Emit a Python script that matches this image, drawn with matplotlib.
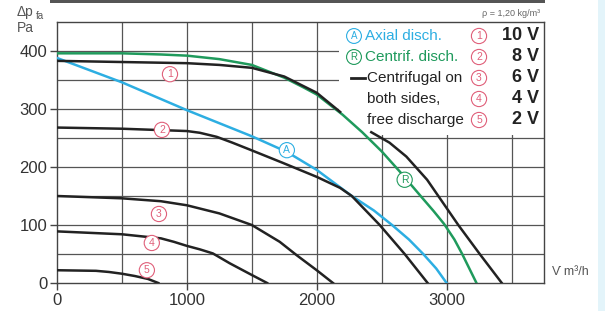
import matplotlib.pyplot as plt
from matplotlib.patches import Rectangle

# fan curves (flow m3/h, pressure Pa)
v10_x = [0, 500, 1000, 1250, 1500, 1750, 2000, 2180]
v10_y = [383, 381, 379, 376, 371, 356, 328, 295]

both_x = [2420, 2560, 2690, 2850, 3090, 3255, 3425]
both_y = [260, 242, 218, 178, 100, 50, 0]

v8_x = [0, 500, 1000, 1100, 1230, 1350, 1485, 1740, 2000, 2180, 2270, 2485, 2677, 2854]
v8_y = [268, 266, 262, 259, 252, 242, 230, 207, 183, 164, 150, 100, 50, 0]

v6_x = [0, 500, 800, 1000, 1250, 1500, 1715, 1845, 2000, 2125]
v6_y = [150, 146, 141, 134, 120, 100, 71, 48, 22, 0]

v4_x = [0, 500, 800, 900, 1000, 1100, 1200, 1330, 1490, 1618]
v4_y = [89, 84, 77, 71, 64, 58, 51, 34, 15, 0]

v2_x = [0, 300, 400, 500, 600, 700, 780]
v2_y = [22, 21, 19, 16, 12, 7, 0]

axial_x = [0, 500, 1000, 1500, 1770, 2000, 2270, 2440, 2580, 2710, 2820, 2920, 3000]
axial_y = [388, 346, 298, 253, 226, 195, 150, 125, 100, 75, 50, 25, 0]

centrif_x = [0, 500, 800, 1000, 1250, 1500, 1750, 1900, 2000, 2200, 2350, 2500, 2640,
             2800, 2900, 2980, 3060, 3120, 3230]
centrif_y = [396, 396, 394, 392, 386, 376, 354, 337, 325, 290, 260, 227, 192,
             150, 124, 102, 75, 50, 0]

num_labels = ['1', '2', '3', '4', '5']
num_pos = [(870, 360), (808, 264), (785, 119), (730, 69), (692, 22)]
volt_labels = ['10 V', '8 V', '6 V', '4 V', '2 V']

x_ticks = [0, 1000, 2000, 3000]
y_ticks = [0, 100, 200, 300, 400]

BLACK = '#222222'
BLUE = '#2daee2'
GREEN = '#1f9a5c'
PINK = '#e0607a'
GRID = '#555555'
reg = ['Liberation Sans', 'DejaVu Sans']

W, H = 605, 311
fig = plt.figure(figsize=(W / 100, H / 100), dpi=100)
ax = fig.add_axes([57 / W, 1 - 283 / H, (544 - 57) / W, (283 - 22) / H])

ax.set_xlim(0, 3750)
ax.set_ylim(0, 450)

# grid
for gx in range(500, 3750, 500):
    ax.axvline(gx, color=GRID, lw=0.9, zorder=1)
for gy in range(50, 450, 50):
    ax.axhline(gy, color=GRID, lw=0.9, zorder=1)

# white area behind the legend text
ax.add_patch(Rectangle((2170, 255), 3750 - 2170, 195, facecolor='white',
                       edgecolor='none', zorder=2))

lw = 1.8
ax.plot(axial_x, axial_y, color=BLUE, lw=lw, zorder=3)
ax.plot(centrif_x, centrif_y, color=GREEN, lw=lw, zorder=3)
for xs, ys in [(v10_x, v10_y), (both_x, both_y), (v8_x, v8_y),
               (v6_x, v6_y), (v4_x, v4_y), (v2_x, v2_y)]:
    ax.plot(xs, ys, color=BLACK, lw=lw, zorder=4)


def circled(x, y, s, c, fs=7.5, trans=None):
    args = dict(ha='center', va='center', fontsize=fs, color=c,
                family=reg, zorder=6,
                bbox=dict(boxstyle='circle,pad=0.25', fc='white', ec=c, lw=0.8))
    if trans is None:
        ax.text(x, y, s, **args)
    else:
        fig.text(x, y, s, **args)


for s, (px, py) in zip(num_labels, num_pos):
    circled(px, py, s, PINK)
circled(1770, 229, 'A', BLUE)
circled(2677, 178, 'R', GREEN)

for sp in ax.spines.values():
    sp.set_color('#444444')
    sp.set_linewidth(1.0)

ax.set_xticks(x_ticks)
ax.set_yticks(y_ticks)
ax.set_xticklabels([str(v) for v in x_ticks], family=reg, fontsize=12, color='#333333')
ax.set_yticklabels([str(v) for v in y_ticks], family=reg, fontsize=12, color='#333333')
ax.tick_params(length=5, width=1, color='#444444', pad=2)


# legend block, placed in pixel coordinates of the figure
def fx(px):
    return px / W


def fy(py):
    return 1 - py / H


fig.text(fx(365), fy(36), 'Axial disch.', color=BLUE, fontsize=11, family=reg, va='center')
fig.text(fx(365), fy(57), 'Centrif. disch.', color=GREEN, fontsize=11, family=reg, va='center')
circled(fx(354), fy(36), 'A', BLUE, fs=7, trans='fig')
circled(fx(354), fy(57), 'R', GREEN, fs=7, trans='fig')
fig.add_artist(plt.Line2D([fx(351), fx(365)], [fy(78), fy(78)], color=BLACK, lw=2))
for i, t in enumerate(['Centrifugal on', 'both sides,', 'free discharge']):
    fig.text(fx(367), fy(78 + 21 * i), t, color=BLACK, fontsize=11, family=reg, va='center')
for i, (n, v) in enumerate(zip(num_labels, volt_labels)):
    circled(fx(479), fy(36 + 21 * i), n, PINK, fs=7.5, trans='fig')
    fig.text(fx(539), fy(36 + 21 * i), v, color=BLACK, fontsize=13, family=reg,
             fontweight='bold', ha='right', va='center')

fig.text(fx(540), fy(14), 'ρ = 1,20 kg/m³', color='#666666', fontsize=6.5,
         family=reg, ha='right', va='center')

# axis titles
fig.text(fx(17), fy(12), 'Δp', color='#555555', fontsize=10, family=reg, va='center')
fig.text(fx(36), fy(16), 'fa', color='#555555', fontsize=7, family=reg, va='center')
fig.text(fx(17), fy(28), 'Pa', color='#555555', fontsize=10, family=reg, va='center')
fig.text(fx(552), fy(272), 'V̇ m³/h', color='#555555', fontsize=9, family=reg, va='center')

# header bar remnant and light strip on the right edge
fig.add_artist(Rectangle((fx(50), fy(3)), fx(545) - fx(50), 3 / H, transform=fig.transFigure,
                         facecolor='#555555', edgecolor='none'))
fig.add_artist(Rectangle((fx(598), 0), 7 / W, 1, transform=fig.transFigure,
                         facecolor='#e3f4fa', edgecolor='none'))

fig.savefig('out.png', dpi=100)
